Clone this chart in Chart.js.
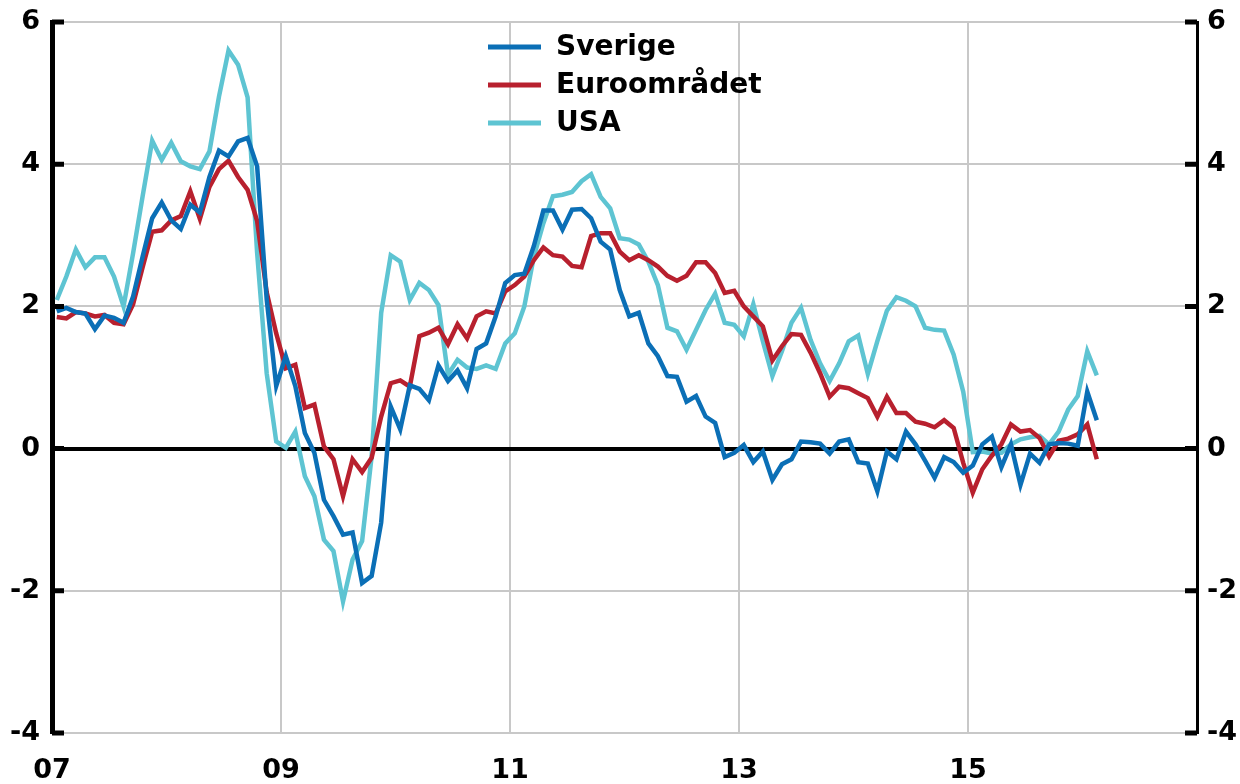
<!DOCTYPE html>
<html>
<head>
<meta charset="utf-8">
<script src="https://cdn.jsdelivr.net/npm/chart.js@4.4.0/dist/chart.umd.min.js"></script>
<style>
  html, body { margin: 0; padding: 0; background: #fff; }
</style>
</head>
<body>
<canvas id="chart" width="1240" height="784"></canvas>
<script>
// månadsdata jan 2007 - feb 2016
var sverige = [
  1.93, 1.98, 1.92, 1.90, 1.68, 1.87, 1.84, 1.77, 2.14, 2.70, 3.24, 3.46,
  3.21, 3.09, 3.43, 3.32, 3.82, 4.19, 4.11, 4.32, 4.37, 3.97, 2.10, 0.88,
  1.30, 0.88, 0.22, -0.06, -0.72, -0.95, -1.21, -1.18, -1.89, -1.79, -1.04, 0.59,
  0.27, 0.89, 0.84, 0.68, 1.17, 0.95, 1.10, 0.85, 1.40, 1.48, 1.86, 2.33,
  2.44, 2.46, 2.85, 3.35, 3.35, 3.08, 3.36, 3.37, 3.24, 2.91, 2.80, 2.23,
  1.86, 1.91, 1.48, 1.30, 1.02, 1.01, 0.66, 0.74, 0.45, 0.36, -0.12, -0.06,
  0.05, -0.19, -0.04, -0.44, -0.22, -0.15, 0.10, 0.09, 0.07, -0.07, 0.10, 0.13,
  -0.19, -0.21, -0.60, -0.04, -0.15, 0.24, 0.06, -0.17, -0.41, -0.12, -0.19, -0.34,
  -0.24, 0.06, 0.17, -0.26, 0.06, -0.51, -0.07, -0.20, 0.06, 0.08, 0.07, 0.04,
  0.80, 0.40
];
var euroomradet = [
  1.85, 1.83, 1.92, 1.90, 1.86, 1.88, 1.77, 1.75, 2.03, 2.55, 3.05, 3.07,
  3.21, 3.27, 3.62, 3.23, 3.68, 3.93, 4.05, 3.82, 3.64, 3.20, 2.20, 1.62,
  1.13, 1.18, 0.57, 0.62, 0.03, -0.15, -0.67, -0.15, -0.33, -0.13, 0.45, 0.92,
  0.96, 0.87, 1.58, 1.63, 1.70, 1.47, 1.75, 1.55, 1.86, 1.93, 1.90, 2.21,
  2.30, 2.42, 2.65, 2.83, 2.72, 2.70, 2.57, 2.55, 2.99, 3.03, 3.03, 2.77,
  2.65, 2.72, 2.65, 2.56, 2.43, 2.36, 2.43, 2.62, 2.62, 2.47, 2.19, 2.22,
  2.00, 1.86, 1.72, 1.24, 1.44, 1.61, 1.60, 1.35, 1.06, 0.73, 0.87, 0.85,
  0.78, 0.71, 0.45, 0.73, 0.50, 0.50, 0.38, 0.35, 0.30, 0.40, 0.29, -0.20,
  -0.62, -0.29, -0.10, 0.06, 0.34, 0.24, 0.26, 0.15, -0.11, 0.11, 0.14, 0.20,
  0.34, -0.15
];
var usa = [
  2.09, 2.42, 2.80, 2.55, 2.69, 2.69, 2.42, 2.00, 2.75, 3.55, 4.33, 4.06,
  4.30, 4.04, 3.97, 3.93, 4.18, 4.95, 5.60, 5.40, 4.94, 2.75, 1.06, 0.10,
  0.01, 0.24, -0.39, -0.67, -1.28, -1.44, -2.15, -1.56, -1.30, -0.11, 1.91, 2.72,
  2.63, 2.09, 2.33, 2.23, 2.02, 1.04, 1.25, 1.14, 1.12, 1.17, 1.12, 1.48,
  1.62, 2.00, 2.70, 3.17, 3.55, 3.57, 3.61, 3.76, 3.86, 3.54, 3.38, 2.96,
  2.94, 2.87, 2.63, 2.30, 1.70, 1.65, 1.39, 1.67, 1.95, 2.18, 1.77, 1.74,
  1.58, 2.03, 1.51, 1.02, 1.37, 1.77, 1.98, 1.53, 1.20, 0.95, 1.20, 1.51,
  1.59, 1.05, 1.51, 1.94, 2.13, 2.08, 2.00, 1.70, 1.67, 1.66, 1.32, 0.80,
  -0.05, -0.04, -0.07, -0.06, 0.06, 0.13, 0.16, 0.18, 0.06, 0.24, 0.55, 0.74,
  1.37, 1.03
];

// etiketter på x-axeln (vartannat år, från jan 2007)
var arsEtiketter = ['07', '09', '11', '13', '15', ''];
var arsPositioner = [0, 24, 48, 72, 96, 120];
var yTicks = [-4, -2, 0, 2, 4, 6];

// varje månad ritas mitt i sin månad
function tillPunkter(serie) {
  return serie.map(function (v, i) { return { x: i + 0.5, y: v }; });
}

var typsnitt = '"DejaVu Sans", "Liberation Sans", sans-serif';

// legend uppe i mitten, en rad per serie
var legendPlugin = {
  id: 'legendILinjer',
  afterDraw: function (chart) {
    var ctx = chart.ctx;
    ctx.save();
    ctx.font = 'bold 28px ' + typsnitt;
    ctx.textBaseline = 'middle';
    chart.data.datasets.forEach(function (ds, i) {
      var y = 47 + i * 38;
      ctx.strokeStyle = ds.borderColor;
      ctx.lineWidth = 5;
      ctx.beginPath();
      ctx.moveTo(488, y);
      ctx.lineTo(541, y);
      ctx.stroke();
      ctx.fillStyle = '#000';
      ctx.fillText(ds.label, 556, y + 1);
    });
    ctx.restore();
  }
};

// korta tickstreck inåt på båda y-axlarna
var tickPlugin = {
  id: 'innerTicks',
  afterDraw: function (chart) {
    var ctx = chart.ctx;
    var area = chart.chartArea;
    var skala = chart.scales.y;
    ctx.save();
    ctx.strokeStyle = '#000';
    ctx.lineWidth = 5;
    yTicks.forEach(function (t) {
      var py = skala.getPixelForValue(t);
      ctx.beginPath();
      ctx.moveTo(area.left, py);
      ctx.lineTo(area.left + 12, py);
      ctx.moveTo(area.right - 12, py);
      ctx.lineTo(area.right, py);
      ctx.stroke();
    });
    ctx.restore();
  }
};

var ctx = document.getElementById('chart').getContext('2d');
var myChart = new Chart(ctx, {
  type: 'line',
  data: {
    datasets: [{
      label: 'Sverige',
      data: tillPunkter(sverige),
      borderColor: '#0b6fb6',
      borderWidth: 4.5
    }, {
      label: 'Euroområdet',
      data: tillPunkter(euroomradet),
      borderColor: '#b8202e',
      borderWidth: 4.5
    }, {
      label: 'USA',
      data: tillPunkter(usa),
      borderColor: '#5ec4d2',
      borderWidth: 4.5
    }]
  },
  options: {
    responsive: false,
    animation: false,
    devicePixelRatio: 1,
    layout: { padding: { top: 22, left: 0, right: 0, bottom: 0 } },
    elements: {
      point: { radius: 0 },
      line: { tension: 0, borderJoinStyle: 'miter' }
    },
    plugins: {
      legend: { display: false },
      tooltip: { enabled: false }
    },
    scales: {
      x: {
        type: 'linear',
        min: 0,
        max: 120,
        afterBuildTicks: function (scale) {
          scale.ticks = arsPositioner.map(function (v) { return { value: v }; });
        },
        afterFit: function (scale) { scale.height = 51; },
        ticks: {
          autoSkip: false,
          maxRotation: 0,
          padding: 22,
          color: '#000',
          font: { family: typsnitt, size: 27, weight: 'bold' },
          callback: function (v) {
            var i = arsPositioner.indexOf(v);
            return i >= 0 ? arsEtiketter[i] : '';
          }
        },
        grid: {
          drawTicks: false,
          color: function (c) {
            var v = c.tick ? c.tick.value : null;
            return (v === 0 || v === 120) ? 'rgba(0,0,0,0)' : '#c8c8c8';
          },
          lineWidth: 2
        },
        border: { display: false }
      },
      y: {
        position: 'left',
        min: -4,
        max: 6,
        afterBuildTicks: function (scale) {
          scale.ticks = yTicks.map(function (v) { return { value: v }; });
        },
        afterFit: function (scale) {
          scale.width = 52;
          scale.paddingTop = 0;
          scale.paddingBottom = 0;
        },
        ticks: {
          padding: 12,
          color: '#000',
          font: { family: typsnitt, size: 27, weight: 'bold', lineHeight: 1 }
        },
        grid: {
          drawTicks: false,
          color: function (c) {
            return c.tick && c.tick.value === 0 ? '#000' : '#c8c8c8';
          },
          lineWidth: function (c) {
            return c.tick && c.tick.value === 0 ? 4 : 2;
          }
        },
        border: { display: true, color: '#000', width: 5 }
      },
      y2: {
        position: 'right',
        min: -4,
        max: 6,
        afterBuildTicks: function (scale) {
          scale.ticks = yTicks.map(function (v) { return { value: v }; });
        },
        afterFit: function (scale) {
          scale.width = 43;
          scale.paddingTop = 0;
          scale.paddingBottom = 0;
        },
        ticks: {
          padding: 10,
          color: '#000',
          font: { family: typsnitt, size: 27, weight: 'bold', lineHeight: 1 }
        },
        grid: { drawOnChartArea: false, drawTicks: false },
        border: { display: true, color: '#000', width: 3 }
      }
    }
  },
  plugins: [legendPlugin, tickPlugin]
});
</script>
</body>
</html>
